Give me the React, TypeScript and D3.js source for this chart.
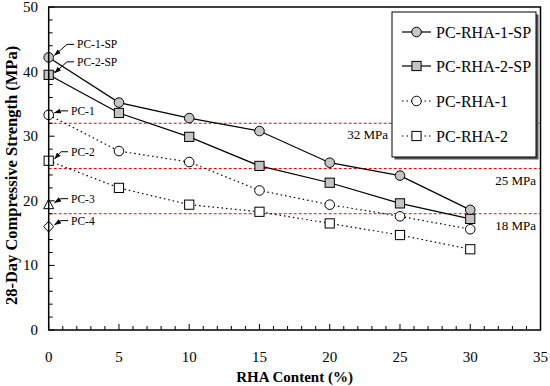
import React, { useEffect } from "react";
import * as d3 from "d3";

const rhaContent = [0, 5, 10, 15, 20, 25, 30];
const pcRha1Sp = [42.2, 35.2, 32.8, 30.8, 25.9, 23.9, 18.6];
const pcRha2Sp = [39.5, 33.6, 29.9, 25.4, 22.8, 19.6, 17.2];
const pcRha1 = [33.3, 27.7, 26.0, 21.6, 19.4, 17.6, 15.6];
const pcRha2 = [26.2, 22.0, 19.4, 18.3, 16.5, 14.7, 12.5];
const pc3 = 19.4;
const pc4 = 16.0;
const refLines = [32, 25, 18];
const refLabels = ["32 MPa", "25 MPa", "18 MPa"];
const xTicks = [0, 5, 10, 15, 20, 25, 30, 35];
const yTicks = [0, 10, 20, 30, 40, 50];

const annLabels = ["PC-1-SP", "PC-2-SP", "PC-1", "PC-2", "PC-3", "PC-4"];
const annValues = [42.2, 39.5, 33.3, 26.2, pc3, pc4];

const W = 550;
const H = 386;
const x = d3.scaleLinear().domain([0, 35]).range([48.7, 540.5]);
const y = d3.scaleLinear().domain([0, 50]).range([330, 7]);

const FONT = "'Liberation Serif', 'DejaVu Serif', serif";

type Series = { name: string; values: number[]; marker: "circle" | "square"; filled: boolean; dotted: boolean };
const series: Series[] = [
  { name: "PC-RHA-1-SP", values: pcRha1Sp, marker: "circle", filled: true, dotted: false },
  { name: "PC-RHA-2-SP", values: pcRha2Sp, marker: "square", filled: true, dotted: false },
  { name: "PC-RHA-1", values: pcRha1, marker: "circle", filled: false, dotted: true },
  { name: "PC-RHA-2", values: pcRha2, marker: "square", filled: false, dotted: true },
];

function Marker({ type, cx, cy, filled }: { type: string; cx: number; cy: number; filled: boolean }) {
  const fill = filled ? "#c4c4c4" : "#fff";
  if (type === "circle") return <circle cx={cx} cy={cy} r={4.8} fill={fill} stroke="#000" strokeWidth={1} />;
  if (type === "square") return <rect x={cx - 4.6} y={cy - 4.6} width={9.2} height={9.2} fill={fill} stroke="#000" strokeWidth={1} />;
  if (type === "triangle")
    return <path d={`M${cx},${cy - 5.5}L${cx + 5},${cy + 4}L${cx - 5},${cy + 4}Z`} fill="#fff" stroke="#000" strokeWidth={1} />;
  return <path d={`M${cx},${cy - 5.5}L${cx + 5},${cy}L${cx},${cy + 5.5}L${cx - 5},${cy}Z`} fill="#fff" stroke="#000" strokeWidth={1} />;
}

export default function App() {
  useEffect(() => {
    document.body.style.margin = "0";
  }, []);
  const line = d3
    .line<number>()
    .x((_, i) => x(rhaContent[i]))
    .y((d) => y(d));

  const xMinor = d3.range(0, 36, 1);
  const yMinor = d3.range(0, 51, 2);

  const annTextX = [77, 77, 71, 71, 71, 71];
  const annDy = [-13, -13, -4, -9, -6, -6];
  const annMarkers = ["circle", "square", "circle", "square", "triangle", "diamond"];

  const legendX = 392;
  const legendY = 12;
  const legendW = 144;
  const legendH = 145;
  const legendRows = [32, 66, 101, 136];

  return (
    <svg width={W} height={H} style={{ display: "block", background: "#fff", fontFamily: FONT }}>
      <defs>
        <marker id="arrow" viewBox="0 0 10 10" refX="9" refY="5" markerWidth="7" markerHeight="7" orient="auto">
          <path d="M0,1.5L10,5L0,8.5Z" fill="#000" />
        </marker>
      </defs>
      <rect x={0} y={0} width={W} height={H} fill="#fff" />

      {/* reference lines */}
      {refLines.map((v) => (
        <line key={v} x1={x(0)} x2={x(35)} y1={y(v)} y2={y(v)} stroke="#ff0000" strokeWidth={1} strokeDasharray="3,2" />
      ))}
      <text x={388} y={y(refLines[0]) + 16} fontSize={13} textAnchor="end">{refLabels[0]}</text>
      <text x={536} y={y(refLines[1]) + 16} fontSize={13} textAnchor="end">{refLabels[1]}</text>
      <text x={536} y={y(refLines[2]) + 16} fontSize={13} textAnchor="end">{refLabels[2]}</text>

      {/* ticks */}
      {xMinor.map((t) => (
        <line key={"xm" + t} x1={x(t)} x2={x(t)} y1={y(0)} y2={y(0) - (t % 5 === 0 ? 6 : 4)} stroke="#000" strokeWidth={1} />
      ))}
      {yMinor.map((t) => (
        <line key={"ym" + t} x1={x(0)} x2={x(0) + (t % 10 === 0 ? 6 : 4)} y1={y(t)} y2={y(t)} stroke="#000" strokeWidth={1} />
      ))}
      {xTicks.map((t) => (
        <text key={"xl" + t} x={x(t)} y={362} fontSize={15} textAnchor="middle">{t}</text>
      ))}
      {yTicks.map((t) => (
        <text key={"yl" + t} x={38} y={y(t) + 5} fontSize={15} textAnchor="end">{t}</text>
      ))}

      {/* series */}
      {series.map((s) => (
        <g key={s.name}>
          <path d={line(s.values) || ""} fill="none" stroke="#000" strokeWidth={1.2} strokeDasharray={s.dotted ? "1.5,3" : undefined} />
          {s.values.map((v, i) => (
            <Marker key={i} type={s.marker} cx={x(rhaContent[i])} cy={y(v)} filled={s.filled} />
          ))}
        </g>
      ))}
      <Marker type="triangle" cx={x(0)} cy={y(pc3)} filled={false} />
      <Marker type="diamond" cx={x(0)} cy={y(pc4)} filled={false} />

      {/* annotations */}
      {annLabels.map((lab, i) => {
        const my = y(annValues[i]);
        const ty = my + annDy[i];
        const tx = annTextX[i];
        const r = annMarkers[i] === "circle" ? 4.8 : 5;
        return (
          <g key={lab}>
            <path
              d={`M${tx - 3},${ty}L${tx - 10},${ty}L${x(0) + r + 1},${my - 2}`}
              fill="none"
              stroke="#000"
              strokeWidth={1}
              markerEnd="url(#arrow)"
            />
            <text x={tx} y={ty + 4} fontSize={11.5}>{lab}</text>
          </g>
        );
      })}

      {/* frame */}
      <rect x={x(0)} y={y(50)} width={x(35) - x(0)} height={y(0) - y(50)} fill="none" stroke="#000" strokeWidth={1.5} />

      {/* legend */}
      <rect x={legendX + 2.5} y={legendY + 2.5} width={legendW} height={legendH} fill="#555" />
      <rect x={legendX} y={legendY} width={legendW} height={legendH} fill="#fff" stroke="#000" strokeWidth={1} />
      {series.map((s, i) => (
        <g key={"lg" + s.name}>
          <line x1={legendX + 10} x2={legendX + 39} y1={legendY + legendRows[i] - 12} y2={legendY + legendRows[i] - 12}
            stroke="#000" strokeWidth={1.2} strokeDasharray={s.dotted ? "1.5,3" : undefined} />
          <Marker type={s.marker} cx={legendX + 24.5} cy={legendY + legendRows[i] - 12} filled={s.filled} />
          <text x={legendX + 44} y={legendY + legendRows[i] - 6.5} fontSize={16}>{s.name}</text>
        </g>
      ))}

      {/* axis titles */}
      <text x={(x(0) + x(35)) / 2} y={382} fontSize={15} fontWeight="bold" textAnchor="middle">RHA Content (%)</text>
      <text transform={`translate(17,${(y(0) + y(50)) / 2 + 7}) rotate(-90)`} fontSize={16.5} fontWeight="bold" textAnchor="middle">
        28-Day Compressive Strength (MPa)
      </text>
    </svg>
  );
}
